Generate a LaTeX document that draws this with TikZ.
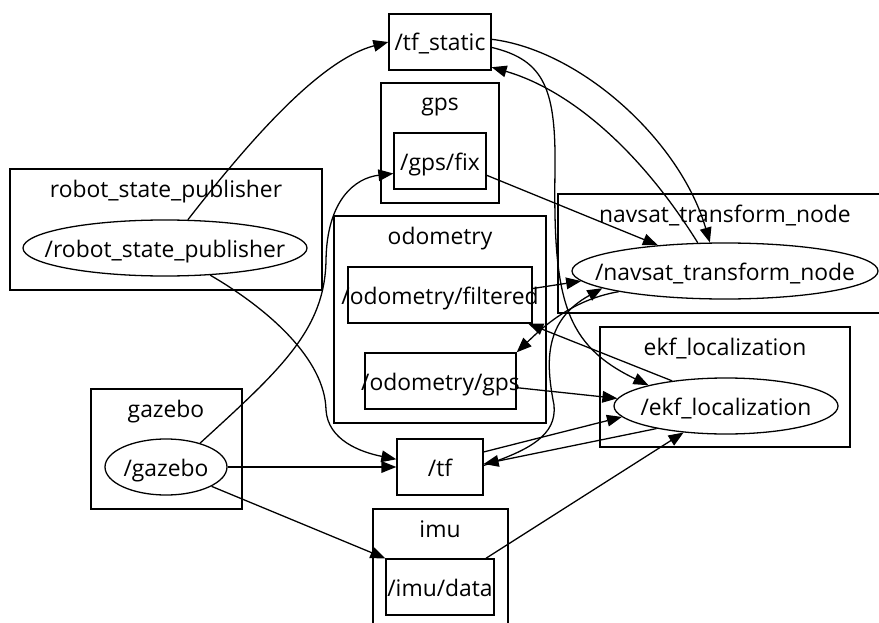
\documentclass[tikz,border=0pt]{standalone}
\usepackage{fontspec}
\setmainfont{Open Sans}
\usetikzlibrary{arrows.meta,shapes.geometric}
\tikzset{
  topic/.style={draw, rectangle, line width=1.1pt, inner sep=0pt, minimum height=16.8mm,
    text height=5.4mm, text depth=0pt, font=\fontsize{19.5}{22}\selectfont},
  rosnode/.style={draw, ellipse, line width=1.1pt, inner sep=0pt, minimum height=16.8mm,
    text height=5.4mm, text depth=0pt, font=\fontsize{19.5}{22}\selectfont},
  cluster/.style={line width=1.1pt},
  clabel/.style={anchor=base, inner sep=0pt, font=\fontsize{19.5}{22}\selectfont},
  conn/.style={line width=1.1pt, -{Triangle[length=4.5mm,width=3.5mm]}}
}
\begin{document}
\begin{tikzpicture}[x=0.3mm,y=-0.3mm]
\useasboundingbox (0,0) rectangle (879,623);
\clip (0,0) rectangle (879,623);
% clusters
\draw[cluster] (10,169) rectangle (322,290);
\node[clabel] (rsplbl) at (166,197) {robot\_state\_publisher};
\draw[cluster] (91,389) rectangle (242,509);
\node[clabel] (gazlbl) at (166,417) {gazebo};
\draw[cluster] (381,83) rectangle (499,203);
\node[clabel] (gpslbl) at (440,111) {gps};
\draw[cluster] (334,216) rectangle (546,423);
\node[clabel] (odomlbl) at (440,244) {odometry};
\draw[cluster] (373,509) rectangle (508,640);
\node[clabel] (imulbl) at (440,537) {imu};
\draw[cluster] (558,194) rectangle (890,313);
\node[clabel] (navlbl) at (725,222) {navsat\_transform\_node};
\draw[cluster] (600,327) rectangle (850,447);
\node[clabel] (ekflbl) at (725,355) {ekf\_localization};
% topics
\node[topic, minimum width=30.6mm] (tfstatic) at (440,42) {/tf\_static};
\node[topic, minimum width=27.6mm] (gpsfix) at (440,161) {/gps/fix};
\node[topic, minimum width=55.2mm] (filtered) at (440,295) {\makebox[0pt]{/odometry/filtered}};
\node[topic, minimum width=45.3mm] (odomgps) at (440.5,381) {\makebox[0pt]{/odometry/gps}};
\node[topic, minimum width=25.8mm] (tf) at (440,467) {/tf};
\node[topic, minimum width=32.4mm] (imudata) at (440,587) {\makebox[0pt]{/imu/data}};
% nodes
\node[rosnode, minimum width=85.2mm] (rsp) at (165,248) {\makebox[0pt]{/robot\_state\_publisher}};
\node[rosnode, minimum width=36.6mm] (gazebo) at (166,467) {\makebox[0pt]{/gazebo}};
\node[rosnode, minimum width=91.8mm] (navsat) at (725,271) {\makebox[0pt]{/navsat\_transform\_node}};
\node[rosnode, minimum width=67.2mm] (ekf) at (726,406) {\makebox[0pt]{/ekf\_localization}};
% connections
\draw[conn] (rsp.51) .. controls (250,140) and (320,60) .. (tfstatic.west);
\draw[conn] (rsp.-31) .. controls (270,310) and (325,360) .. (326,410) .. controls (328,440) and (360,452) .. (tf.170);
\draw[conn] (gazebo.35) .. controls (280,370) and (325,330) .. (326,260) .. controls (327,200) and (355,178) .. (gpsfix.195);
\draw[conn] (gazebo.east) -- (tf.west);
\draw[conn] (gazebo.-23) -- (imudata.north west);
\draw[conn] (imudata.32) -- (ekf.212);
\draw[conn] (tfstatic.3) .. controls (580,50) and (680,140) .. (navsat.118);
\draw[conn] (navsat.134) .. controls (640,150) and (570,90) .. (tfstatic.-26);
\draw[conn] (tfstatic.-6) .. controls (545,60) and (556,90) .. (555,170) .. controls (553,300) and (565,345) .. (ekf.165);
\draw[conn] (gpsfix.-17) -- (navsat.159);
\draw[conn] (filtered.4) -- (navsat.184);
\draw[conn] (navsat.191) .. controls (570,300) and (540,330) .. (odomgps.north east);
\draw[conn] (ekf.155) -- (filtered.-18);
\draw[conn] (odomgps.-5) -- (ekf.176);
\draw[conn] (tf.19) -- (ekf.186);
\draw[conn] (ekf.198) -- (tf.4);
\draw[conn] (tf.2) .. controls (530,450) and (557,435) .. (554,405) .. controls (545,360) and (545,320) .. (navsat.188);
\end{tikzpicture}
\end{document}
